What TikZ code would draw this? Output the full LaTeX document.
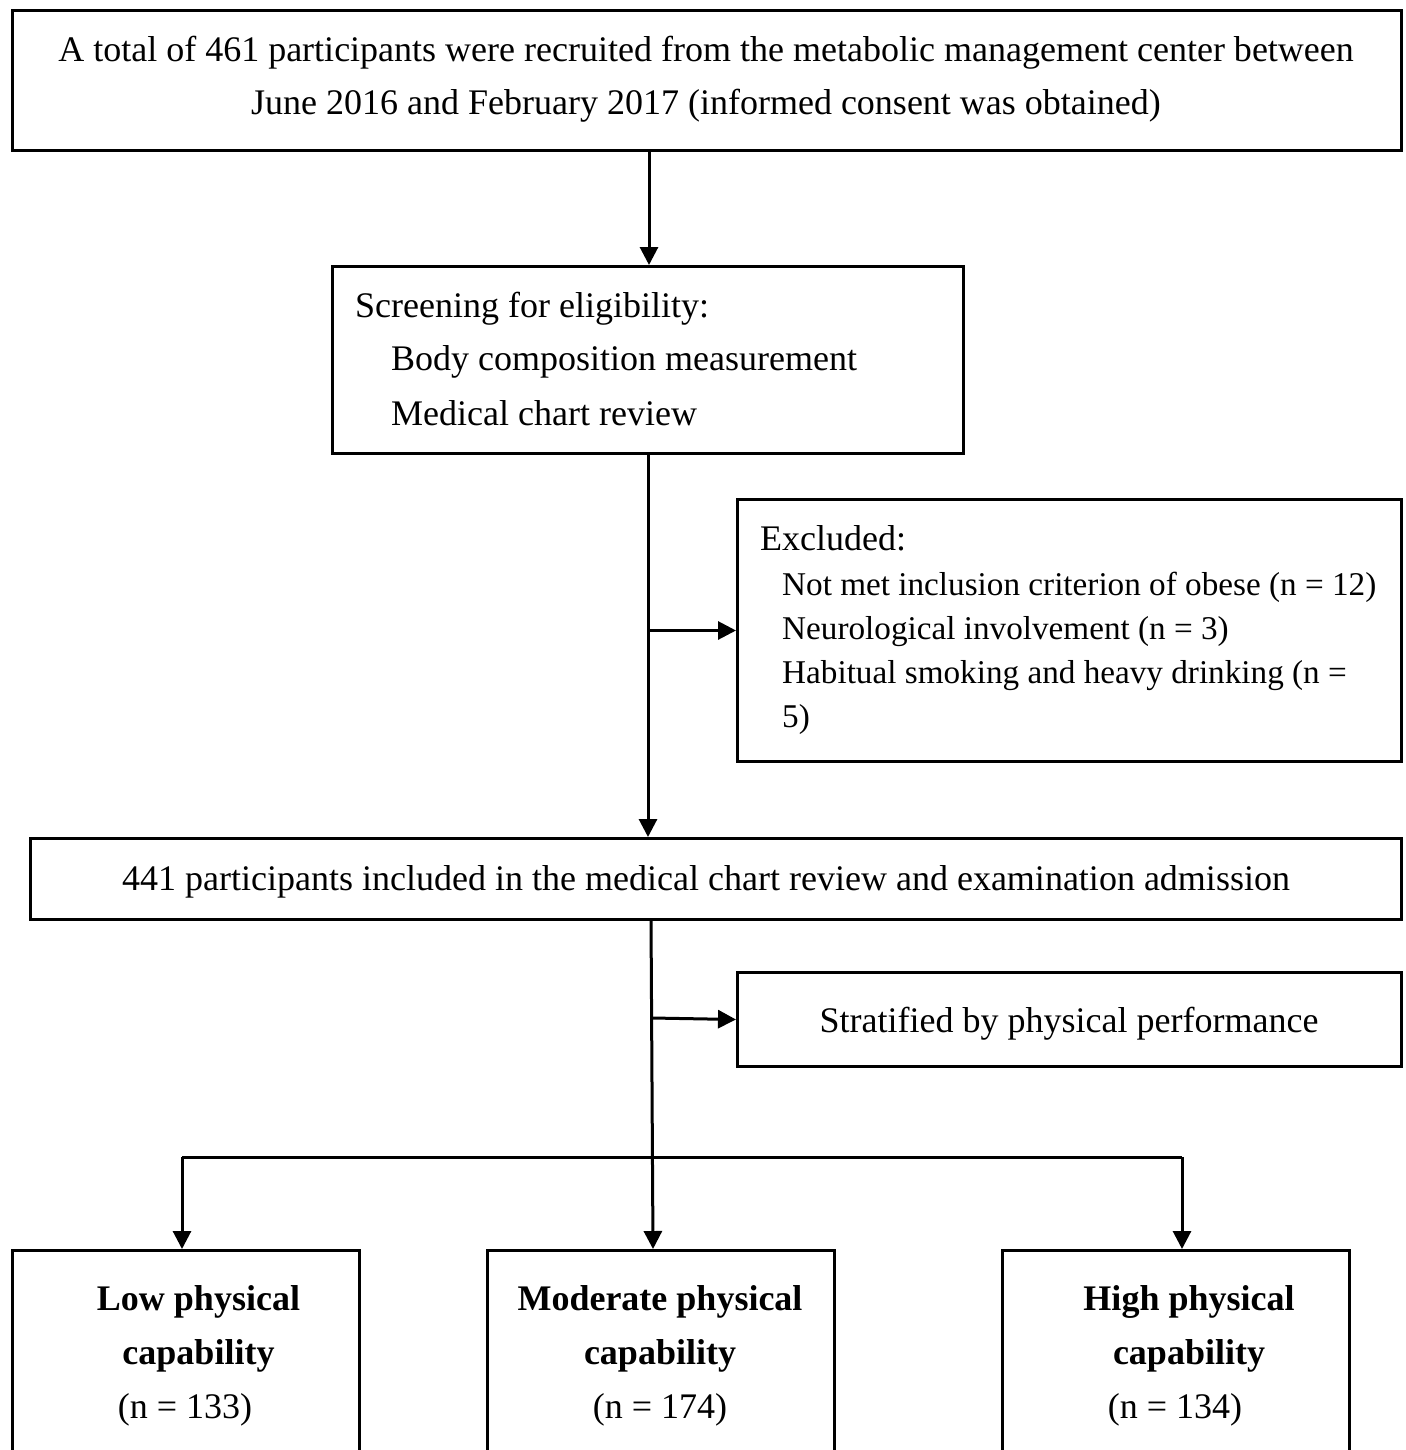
\documentclass[tikz,border=0pt]{standalone}
\usepackage{fontspec}
\setmainfont{Liberation Serif}
\usetikzlibrary{arrows.meta}
\begin{document}
\begin{tikzpicture}[x=1pt,y=-1pt,
  box/.style={draw,line width=3pt,inner sep=0pt,anchor=north west},
  txt/.style={inner sep=0pt,font=\fontsize{36}{54}\selectfont},
  stxt/.style={inner sep=0pt,font=\fontsize{33.2}{44}\selectfont},
  btxt/.style={inner sep=0pt,font=\fontsize{36}{54}\selectfont\bfseries},
  arr/.style={line width=3pt,-{Triangle[length=18pt,width=18pt]}},
  ln/.style={line width=3pt}]
\useasboundingbox (0,0) rectangle (1405,1450);
\clip (0,0) rectangle (1405,1450);
% boxes
\node[box,minimum width=1389pt,minimum height=140pt] (b1) at (11,9) {};
\node[box,minimum width=631pt,minimum height=187pt] (b2) at (331,265) {};
\node[box,minimum width=664pt,minimum height=262pt] (ex) at (736,498) {};
\node[box,minimum width=1371pt,minimum height=81pt] (b3) at (29,837) {};
\node[box,minimum width=664pt,minimum height=94pt] (st) at (736,971) {};
\node[box,minimum width=347pt,minimum height=300pt] (lo) at (11,1249) {};
\node[box,minimum width=347pt,minimum height=300pt] (mo) at (486,1249) {};
\node[box,minimum width=347pt,minimum height=300pt] (hi) at (1001,1249) {};
% texts
\node[txt,anchor=base] (t1a) at (706,62) {A total of 461 participants were recruited from the metabolic management center between};
\node[txt,anchor=base] (t1b) at (706,115) {June 2016 and February 2017 (informed consent was obtained)};
\node[txt,anchor=base west] (t2a) at (355,317) {Screening for eligibility:};
\node[txt,anchor=base west] (t2b) at (391,370) {Body composition measurement};
\node[txt,anchor=base west] (t2c) at (391,425) {Medical chart review};
\node[txt,anchor=base west] (e1) at (760,550) {Excluded:};
\node[stxt,anchor=base west] (e2) at (782,595) {Not met inclusion criterion of obese (n = 12)};
\node[stxt,anchor=base west] (e3) at (782,639) {Neurological involvement (n = 3)};
\node[stxt,anchor=base west] (e4) at (782,683) {Habitual smoking and heavy drinking (n =};
\node[stxt,anchor=base west] (e5) at (782,727) {5)};
\node[txt,anchor=base] (t3) at (706,890) {441 participants included in the medical chart review and examination admission};
\node[txt,anchor=base] (ts) at (1069,1032) {Stratified by physical performance};
\node[btxt,anchor=base] (l1) at (198.5,1310) {Low physical};
\node[btxt,anchor=base] (l2) at (198.5,1364) {capability};
\node[txt,anchor=base] (l3) at (185,1418) {(n = 133)};
\node[btxt,anchor=base] (m1) at (660,1310) {Moderate physical};
\node[btxt,anchor=base] (m2) at (660,1364) {capability};
\node[txt,anchor=base] (m3) at (660,1418) {(n = 174)};
\node[btxt,anchor=base] (h1) at (1189,1310) {High physical};
\node[btxt,anchor=base] (h2) at (1189,1364) {capability};
\node[txt,anchor=base] (h3) at (1175,1418) {(n = 134)};
% junction coordinates
\coordinate (c1) at (649,0);
\coordinate (c2) at (648,0);
\coordinate (c3a) at (651,918);
\coordinate (c3b) at (653,1249);
\coordinate (c3m) at (652,1018);
\coordinate (hl) at (182,1157);
\coordinate (hr) at (1182,1157);
% connectors
\draw[arr] (b1.south -| c1) -- (b2.north -| c1);
\draw[arr] (b2.south -| c2) -- (b3.north -| c2);
\draw[arr] (ex.west -| c2) -- (ex.west);
\draw[arr] (c3a) -- (c3b);
\draw[arr] (c3m) -- (st.west);
\draw[ln] (hl) -- (hr);
\draw[arr] (hl) -- (lo.north -| hl);
\draw[arr] (hr) -- (hi.north -| hr);
\end{tikzpicture}
\end{document}
